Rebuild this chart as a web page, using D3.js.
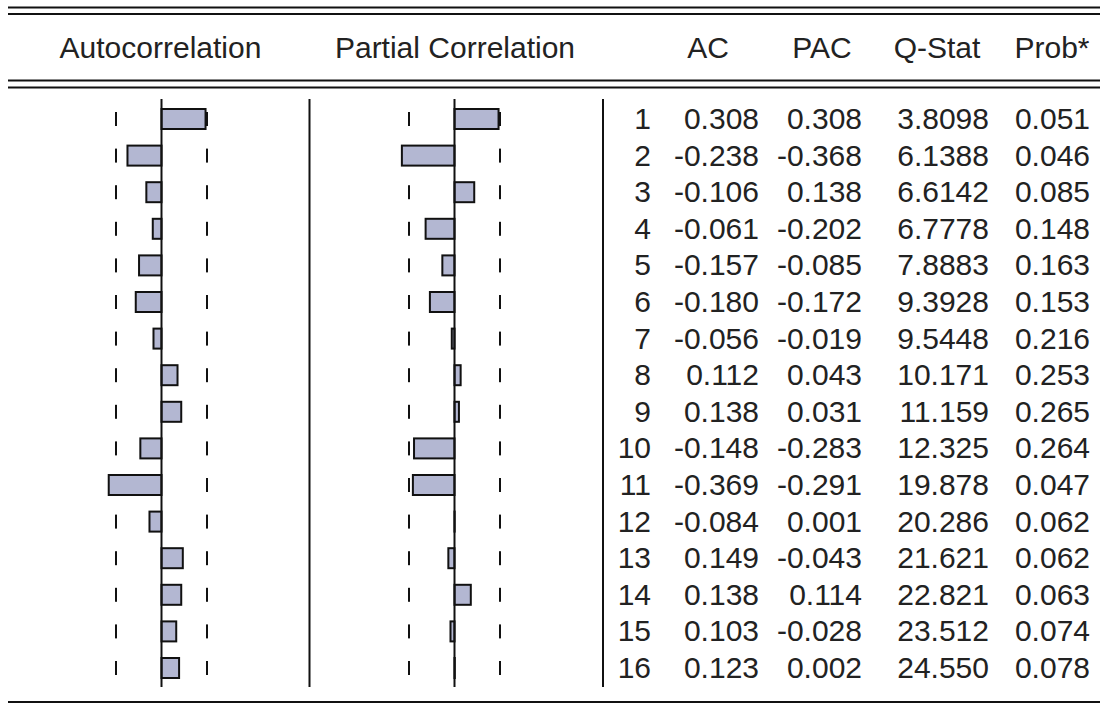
<!DOCTYPE html>
<html>
<head>
<meta charset="utf-8">
<script src="https://cdn.jsdelivr.net/npm/d3@7"></script>
<style>
  html, body { margin: 0; padding: 0; background: #ffffff; }
  svg { display: block; }
  text { font-family: "Liberation Sans", Arial, sans-serif; fill: #222; }
</style>
</head>
<body>
<svg id="chart" width="1105" height="705"></svg>
<script>
// ---- data ----
const lags = [1, 2, 3, 4, 5, 6, 7, 8, 9, 10, 11, 12, 13, 14, 15, 16];
const acValues = [0.308, -0.238, -0.106, -0.061, -0.157, -0.180, -0.056, 0.112, 0.138, -0.148, -0.369, -0.084, 0.149, 0.138, 0.103, 0.123];
const pacValues = [0.308, -0.368, 0.138, -0.202, -0.085, -0.172, -0.019, 0.043, 0.031, -0.283, -0.291, 0.001, -0.043, 0.114, -0.028, 0.002];
const qStat = ["3.8098", "6.1388", "6.6142", "6.7778", "7.8883", "9.3928", "9.5448", "10.171", "11.159", "12.325", "19.878", "20.286", "21.621", "22.821", "23.512", "24.550"];
const probValues = ["0.051", "0.046", "0.085", "0.148", "0.163", "0.153", "0.216", "0.253", "0.265", "0.264", "0.047", "0.062", "0.062", "0.063", "0.074", "0.078"];
const acLabels = ["0.308", "-0.238", "-0.106", "-0.061", "-0.157", "-0.180", "-0.056", "0.112", "0.138", "-0.148", "-0.369", "-0.084", "0.149", "0.138", "0.103", "0.123"];
const pacLabels = ["0.308", "-0.368", "0.138", "-0.202", "-0.085", "-0.172", "-0.019", "0.043", "0.031", "-0.283", "-0.291", "0.001", "-0.043", "0.114", "-0.028", "0.002"];
const headers = ["Autocorrelation", "Partial Correlation", "AC", "PAC", "Q-Stat", "Prob*"];
const confBound = 0.318; // approx. 2/sqrt(T)

// ---- layout ----
const svg = d3.select("#chart");
const lineLeft = 8, lineRight = 1100;
const FS = 30;

const y = d3.scalePoint().domain(lags).range([119, 668]);
const xAC = d3.scaleLinear().domain([-1, 1]).range([161.5 - 143, 161.5 + 143]);
const xPAC = d3.scaleLinear().domain([-1, 1]).range([454.5 - 143, 454.5 + 143]);

// horizontal rules
function hline(yy, w) {
  svg.append("line").attr("x1", lineLeft).attr("x2", lineRight)
    .attr("y1", yy).attr("y2", yy).attr("stroke", "#111").attr("stroke-width", w);
}
hline(7.5, 2); hline(14, 2);
hline(80.5, 2); hline(87.5, 2);
hline(702, 2);

// header text
const headerX = [160.5, 455, 708, 822, 937, 1052];
svg.selectAll("text.hdr").data(headers).enter().append("text")
  .attr("class", "hdr")
  .attr("x", (d, i) => headerX[i]).attr("y", 58)
  .attr("text-anchor", "middle")
  .attr("font-size", FS)
  .text(d => d);

// vertical lines
const vTop = 99, vBot = 687;
[309.5, 603].forEach(xx => {
  svg.append("line").attr("x1", xx).attr("x2", xx).attr("y1", vTop).attr("y2", vBot)
    .attr("stroke", "#111").attr("stroke-width", 2);
});

function panel(values, xs, cls) {
  const g = svg.append("g").attr("class", cls);
  // dashes at confidence bounds
  [-confBound, confBound].forEach(b => {
    g.selectAll(null).data(lags).enter().append("line")
      .attr("x1", xs(b)).attr("x2", xs(b))
      .attr("y1", d => y(d) - 7).attr("y2", d => y(d) + 7)
      .attr("stroke", "#111").attr("stroke-width", 2);
  });
  // bars
  g.selectAll("rect").data(values).enter().append("rect")
    .attr("x", d => Math.min(xs(0), xs(d)))
    .attr("width", d => Math.abs(xs(d) - xs(0)))
    .attr("y", (d, i) => y(lags[i]) - 10)
    .attr("height", 20)
    .attr("fill", "#b3b7d2")
    .attr("stroke", "#111")
    .attr("stroke-width", 2);
  // zero line on top
  g.append("line").attr("x1", xs(0)).attr("x2", xs(0)).attr("y1", vTop).attr("y2", vBot)
    .attr("stroke", "#111").attr("stroke-width", 2);
}
panel(acValues, xAC, "ac");
panel(pacValues, xPAC, "pac");

// numeric columns
const cols = [
  { data: lags.map(String), x: 651 },
  { data: acLabels, x: 759 },
  { data: pacLabels, x: 862 },
  { data: qStat, x: 989 },
  { data: probValues, x: 1090 }
];
cols.forEach((c, ci) => {
  svg.selectAll("text.c" + ci).data(c.data).enter().append("text")
    .attr("class", "c" + ci)
    .attr("x", c.x)
    .attr("y", (d, i) => y(lags[i]) + 10)
    .attr("text-anchor", "end")
    .attr("font-size", FS)
    .text(d => d);
});
</script>
</body>
</html>
